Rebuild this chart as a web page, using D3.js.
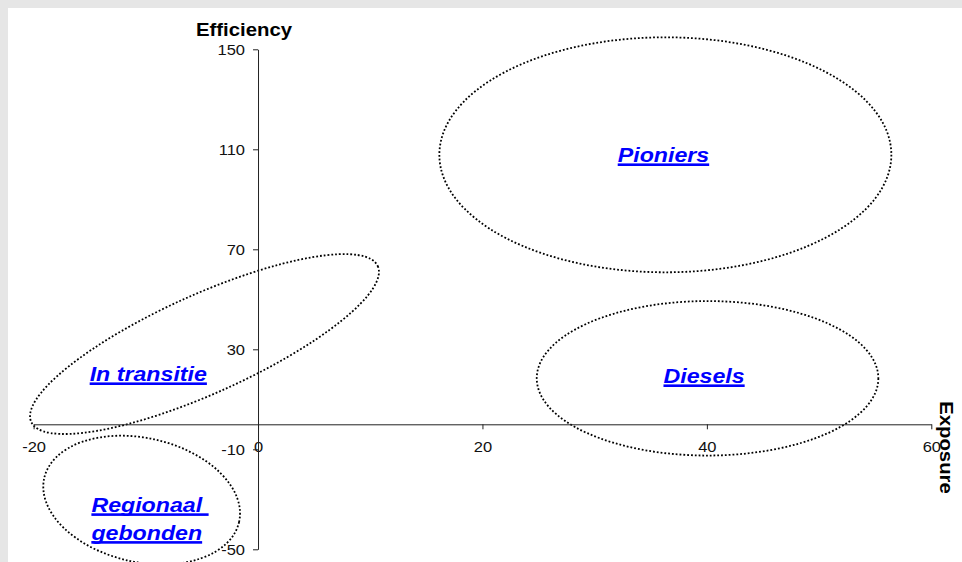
<!DOCTYPE html>
<html lang="en">
<head>
<meta charset="UTF-8">
<title>Efficiency vs Exposure</title>
<script src="https://d3js.org/d3.v7.min.js"></script>
<style>
    body {
        margin: 0;
        background: #e6e6e6;
    }
    svg {
        display: block;
        font-family: "Liberation Sans", Arial, sans-serif;
    }
</style>
</head>
<body>
<svg id="chart"></svg>
<script>
    // Axis ticks
    const xTicks = [-20, 0, 20, 40, 60];
    const yTicks = [150, 110, 70, 30, -10, -50];

    // Cluster ellipses (data units), tilt in degrees counter-clockwise
    const groups = ["Pioniers", "Diesels", "In transitie", "Regionaal gebonden"];
    const centerX = [36.3, 40.06, -4.77, -10.37];
    const centerY = [107.8, 18.4, 32.1, -30.3];
    const radiusX = [20.14, 15.22, 16.93, 8.9];
    const radiusY = [47, 30.9, 19.76, 24.8];
    const tilt = [0, 0, 24.2, -12.7];

    // Cluster labels
    const labelLines = [["Pioniers"], ["Diesels"], ["In transitie"], ["Regionaal ", "gebonden"]];
    const labelX = [36.13, 39.75, -9.78, -14.85];
    const labelY = [105.0, 16.6, 17.4, -34.96];

    const width = 962, height = 562;
    const stretch = 1.1;      // text in the original is a bit wider than Arial
    const labelStretch = 1.16;

    const svg = d3.select("#chart")
        .attr("width", width)
        .attr("height", height);

    svg.append("rect")
        .attr("x", 8).attr("y", 8)
        .attr("width", width - 8).attr("height", height - 8)
        .attr("fill", "#fff");

    const x = d3.scaleLinear().domain([-20, 60]).range([33.6, 931.3]);
    const y = d3.scaleLinear().domain([-50, 150]).range([549.3, 49.3]);

    // Ellipses
    groups.forEach((g, i) => {
        const cx = x(centerX[i]), cy = y(centerY[i]);
        svg.append("ellipse")
            .attr("cx", cx)
            .attr("cy", cy)
            .attr("rx", x(centerX[i] + radiusX[i]) - cx)
            .attr("ry", cy - y(centerY[i] + radiusY[i]))
            .attr("transform", `rotate(${-tilt[i]},${cx},${cy})`)
            .attr("fill", "none")
            .attr("stroke", "#000")
            .attr("stroke-width", 1.8)
            .attr("stroke-dasharray", "1.8 2");
    });

    // Axes
    const xAxis = d3.axisBottom(x)
        .tickValues(xTicks)
        .tickFormat(d => String(d))
        .tickSize(5)
        .tickSizeOuter(0)
        .tickPadding(12);

    const yAxis = d3.axisLeft(y)
        .tickValues(yTicks)
        .tickFormat(d => String(d))
        .tickSize(5)
        .tickSizeOuter(0)
        .tickPadding(8);

    const gx = svg.append("g")
        .attr("transform", `translate(0,${y(0)})`)
        .call(xAxis);

    const gy = svg.append("g")
        .attr("transform", `translate(${x(0)},0)`)
        .call(yAxis);

    [gx, gy].forEach(g => {
        g.attr("font-family", null).attr("font-size", null);
        g.select(".domain").attr("stroke", "#222");
        g.selectAll(".tick line").attr("stroke", "#222");
        g.selectAll(".tick text")
            .attr("fill", "#111")
            .style("font-size", "15px")
            .attr("transform", `scale(${stretch},1)`);
    });
    gy.selectAll(".tick text").attr("x", -13 / stretch);

    // Axis titles
    svg.append("text")
        .attr("transform", `translate(244,36) scale(${stretch},1)`)
        .attr("text-anchor", "middle")
        .style("font-size", "18.5px")
        .style("font-weight", "bold")
        .text("Efficiency");

    svg.append("text")
        .attr("transform", `translate(939.5,447.5) rotate(90) scale(${stretch},1)`)
        .attr("text-anchor", "middle")
        .style("font-size", "18.5px")
        .style("font-weight", "bold")
        .text("Exposure");

    // Cluster labels, blue, bold italic, underlined
    groups.forEach((g, i) => {
        const lines = labelLines[i];
        const multi = lines.length > 1;
        lines.forEach((line, j) => {
            const lx = x(labelX[i]);
            const ly = y(labelY[i]) + j * 27.8;
            const t = svg.append("text")
                .attr("transform", `translate(${lx},${ly}) scale(${labelStretch},1)`)
                .attr("text-anchor", multi ? "start" : "middle")
                .attr("fill", "#0000ff")
                .style("font-size", "20px")
                .style("font-weight", "bold")
                .style("font-style", "italic")
                .style("white-space", "pre")
                .text(line);
            const w = t.node().getComputedTextLength() * labelStretch;
            svg.append("rect")
                .attr("x", multi ? lx : lx - w / 2)
                .attr("y", ly + 1.6)
                .attr("width", w)
                .attr("height", 2.6)
                .attr("fill", "#0000ff");
        });
    });
</script>
</body>
</html>
